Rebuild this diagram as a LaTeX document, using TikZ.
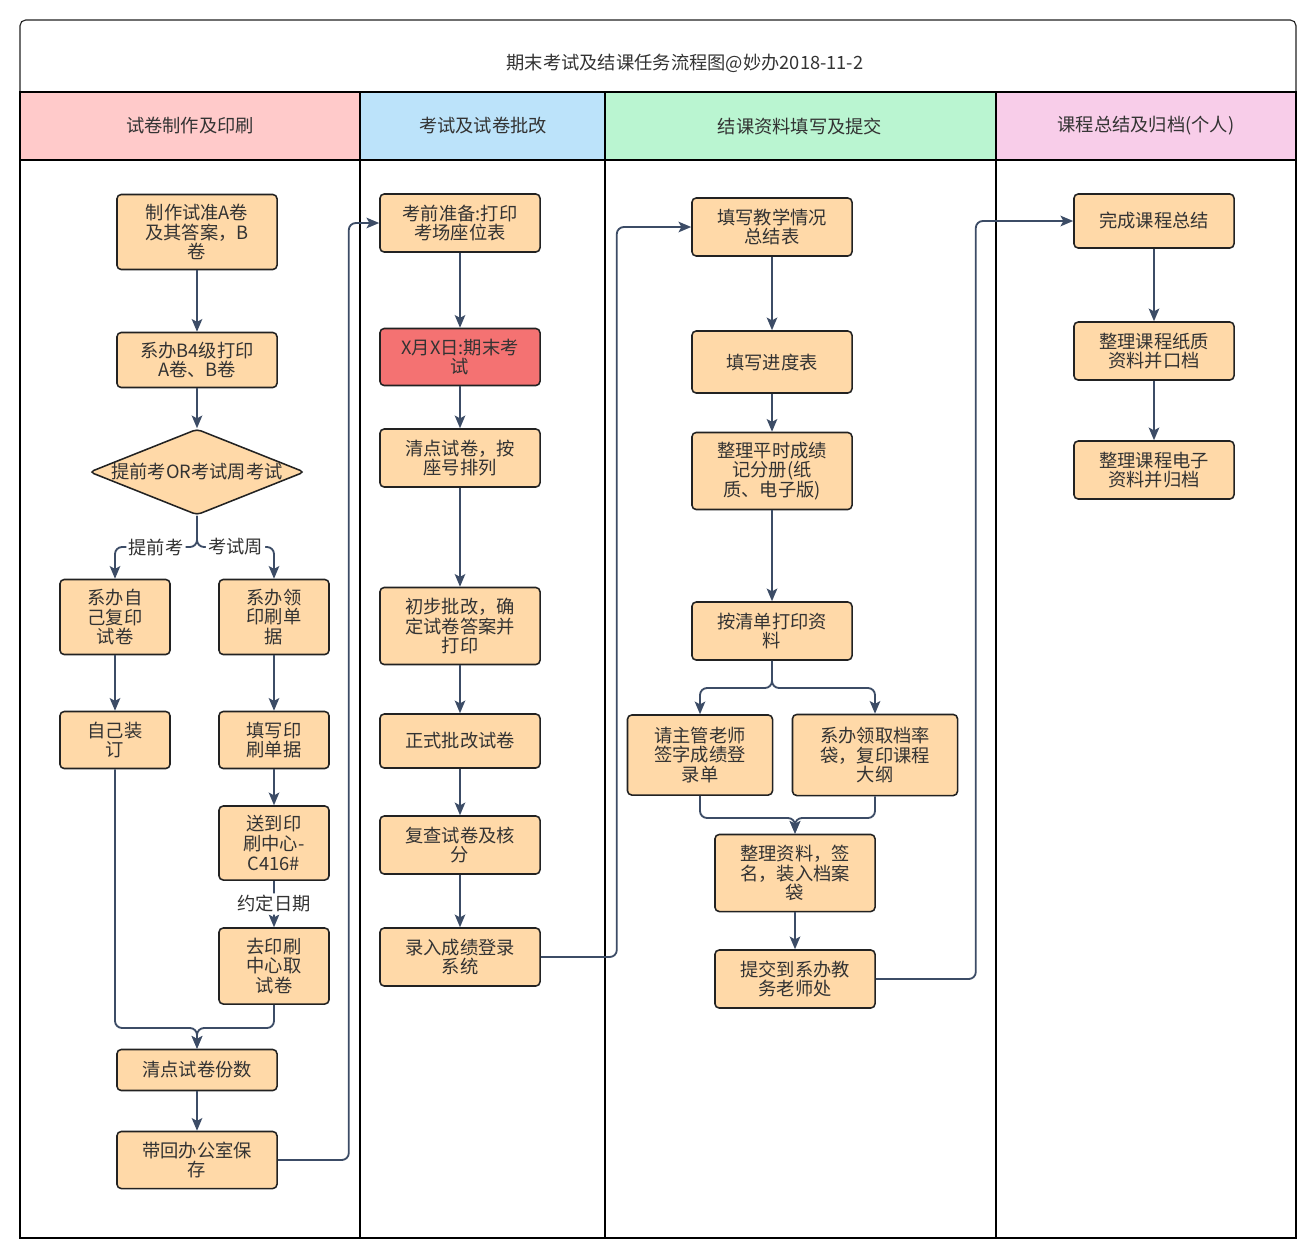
\documentclass[tikz,border=0pt]{standalone}
\usepackage{fontspec}
\setmainfont{Noto Sans CJK SC}
\usepackage{tikz}
\usetikzlibrary{shapes.geometric,arrows.meta}

\definecolor{boxfill}{RGB}{255,217,168}
\definecolor{boxred}{RGB}{244,114,114}
\definecolor{boxline}{RGB}{34,34,34}
\definecolor{arrowc}{RGB}{60,76,102}
\definecolor{txt}{RGB}{51,51,51}
\definecolor{hdA}{RGB}{255,202,202}
\definecolor{hdB}{RGB}{188,227,250}
\definecolor{hdC}{RGB}{186,245,209}
\definecolor{hdD}{RGB}{248,205,233}

\tikzset{
  box/.style={draw=boxline, fill=boxfill, rounded corners=3pt, line width=1.1pt,
    align=center, minimum width=4cm, inner sep=1pt, text=txt,
    font=\fontsize{13}{14}\selectfont},
  conn/.style={draw=arrowc, line width=1.3pt, rounded corners=5pt,
    -{Stealth[length=9pt,width=7.5pt,inset=2pt]}},
  lbl/.style={fill=white, inner sep=1.5pt, text=txt, font=\fontsize{13}{14}\selectfont},
  hd/.style={text=txt, font=\fontsize{13}{14}\selectfont},
}

\begin{document}
\begin{tikzpicture}[x=0.025cm, y=-0.025cm]
   \useasboundingbox (0,0) rectangle (1316,1258);

   % title and lane headers
   \fill[white] (0,0) rectangle (1316,1258);
   \draw[line width=0.8pt, draw=boxline, rounded corners=4pt] (20,92) -- (20,20) -- (1296,20) -- (1296,92);
   \node[hd] (title) at (685,63) {期末考试及结课任务流程图@妙办2018-11-2};
   \fill[hdA] (20,92) rectangle (360,160);
   \fill[hdB] (360,92) rectangle (605,160);
   \fill[hdC] (605,92) rectangle (996,160);
   \fill[hdD] (996,92) rectangle (1296,160);
   \draw[line width=1.7pt] (20,92) rectangle (1296,1238);
   \draw[line width=1.7pt] (20,160) -- (1296,160);
   \draw[line width=1.7pt] (360,92) -- (360,1238);
   \draw[line width=1.7pt] (605,92) -- (605,1238);
   \draw[line width=1.7pt] (996,92) -- (996,1238);
   \node[hd] (hA) at (190,126) {试卷制作及印刷};
   \node[hd] (hB) at (483,126) {考试及试卷批改};
   \node[hd] (hC) at (800,126) {结课资料填写及提交};
   \node[hd] (hD) at (1146,126) {课程总结及归档(个人)};

   % lane 1
   \node[box, minimum height=1.875cm] (a1) at (197,232) {制作试准A卷\\及其答案，B\\卷};
   \node[box, minimum height=1.375cm] (a2) at (197,360) {系办B4级打印\\A卷、B卷};
   \node[box, shape=diamond, aspect=2.5, inner sep=0pt, minimum width=5.375cm, minimum height=2.15cm] (dia) at (197,472) {提前考OR考试周考试};
   \node[box, minimum width=2.75cm, minimum height=1.875cm] (a3) at (115,617) {系办自\\己复印\\试卷};
   \node[box, minimum width=2.75cm, minimum height=1.875cm] (a4) at (274,617) {系办领\\印刷单\\据};
   \node[box, minimum width=2.75cm, minimum height=1.425cm] (a5) at (115,740) {自己装\\订};
   \node[box, minimum width=2.75cm, minimum height=1.425cm] (a6) at (274,740) {填写印\\刷单据};
   \node[box, minimum width=2.75cm, minimum height=1.85cm] (a7) at (274,843) {送到印\\刷中心-\\C416\#};
   \node[box, minimum width=2.75cm, minimum height=1.9cm] (a8) at (274,966) {去印刷\\中心取\\试卷};
   \node[box, minimum height=1.025cm] (a9) at (197,1070) {清点试卷份数};
   \node[box, minimum height=1.425cm] (a10) at (197,1160) {带回办公室保\\存};
   \coordinate (br1) at (197,547);
   \coordinate (mg1) at (197,1028);

   \draw[conn] (a1) -- (a2);
   \draw[conn] (a2) -- (dia);
   \draw[conn] (dia.south) -- (br1) -| node[lbl, pos=0.25] {提前考} (a3.north);
   \draw[conn] (dia.south) -- (br1) -| node[lbl, pos=0.25] {考试周} (a4.north);
   \draw[conn] (a3) -- (a5);
   \draw[conn] (a4) -- (a6);
   \draw[conn] (a6) -- (a7);
   \draw[conn] (a7) -- node[lbl] {约定日期} (a8);
   \draw[conn] (a5.south) |- (mg1) -- (a9.north);
   \draw[conn] (a8.south) |- (mg1) -- (a9.north);
   \draw[conn] (a9) -- (a10);

   % lane 2
   \node[box, minimum height=1.45cm] (b1) at (460,223) {考前准备:打印\\考场座位表};
   \node[box, fill=boxred, minimum height=1.425cm] (b2) at (460,357) {X月X日:期末考\\试};
   \node[box, minimum height=1.45cm] (b3) at (460,458) {清点试卷，按\\座号排列};
   \node[box, minimum height=1.925cm] (b4) at (460,626) {初步批改，确\\定试卷答案并\\打印};
   \node[box, minimum height=1.35cm] (b5) at (460,741) {正式批改试卷};
   \node[box, minimum height=1.45cm] (b6) at (460,845) {复查试卷及核\\分};
   \node[box, minimum height=1.45cm] (b7) at (460,957) {录入成绩登录\\系统};

   \draw[conn] (a10.east) -- ++(71,0) |- (b1.west);
   \draw[conn] (b1) -- (b2);
   \draw[conn] (b2) -- (b3);
   \draw[conn] (b3) -- (b4);
   \draw[conn] (b4) -- (b5);
   \draw[conn] (b5) -- (b6);
   \draw[conn] (b6) -- (b7);

   % lane 3
   \node[box, minimum height=1.45cm] (c1) at (772,227) {填写教学情况\\总结表};
   \node[box, minimum height=1.55cm] (c2) at (772,362) {填写进度表};
   \node[box, minimum height=1.925cm] (c3) at (772,471) {整理平时成绩\\记分册(纸\\质、电子版)};
   \node[box, minimum height=1.45cm] (c4) at (772,631) {按清单打印资\\料};
   \node[box, minimum width=3.625cm, minimum height=2cm] (c5) at (700,755) {请主管老师\\签字成绩登\\录单};
   \node[box, minimum width=4.125cm, minimum height=2.025cm] (c6) at (875,755) {系办领取档率\\袋，复印课程\\大纲};
   \node[box, minimum height=1.925cm] (c7) at (795,873) {整理资料，签\\名，装入档案\\袋};
   \node[box, minimum height=1.45cm] (c8) at (795,979) {提交到系办教\\务老师处};
   \coordinate (br2) at (772,688);
   \coordinate (mg2) at (795,818);

   \draw[conn] (b7.east) -- ++(76,0) |- (c1.west);
   \draw[conn] (c1) -- (c2);
   \draw[conn] (c2) -- (c3);
   \draw[conn] (c3) -- (c4);
   \draw[conn] (c4.south) -- (br2) -| (c5.north);
   \draw[conn] (c4.south) -- (br2) -| (c6.north);
   \draw[conn] (c5.south) |- (mg2) -- (c7.north);
   \draw[conn] (c6.south) |- (mg2) -- (c7.north);
   \draw[conn] (c7) -- (c8);

   % lane 4
   \node[box, minimum height=1.35cm] (d1) at (1154,221) {完成课程总结};
   \node[box, minimum height=1.45cm] (d2) at (1154,351) {整理课程纸质\\资料并口档};
   \node[box, minimum height=1.45cm] (d3) at (1154,470) {整理课程电子\\资料并归档};

   \draw[conn] (c8.east) -- ++(100,0) |- (d1.west);
   \draw[conn] (d1) -- (d2);
   \draw[conn] (d2) -- (d3);
\end{tikzpicture}
\end{document}
